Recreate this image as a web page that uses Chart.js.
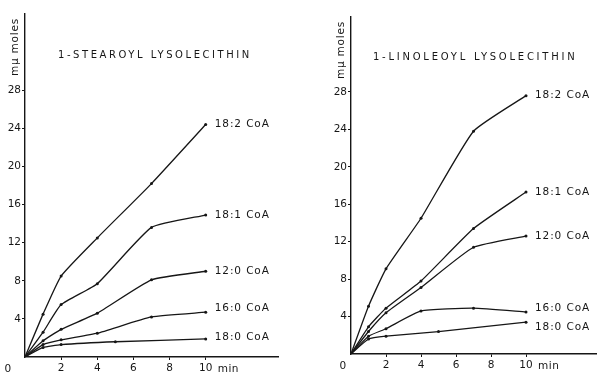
<!DOCTYPE html>
<html>
<head>
<meta charset="utf-8">
<script src="https://cdn.jsdelivr.net/npm/chart.js@4.4.1/dist/chart.umd.min.js"></script>
<style>
  html, body { margin: 0; padding: 0; background: #fff; }
  .wrap { display: flex; width: 600px; height: 375px; }
  .panel { position: relative; width: 300px; height: 375px; }
</style>
</head>
<body>
<div class="wrap">
  <div class="panel"><canvas id="stearoyl"></canvas></div>
  <div class="panel"><canvas id="linoleoyl"></canvas></div>
</div>
<script>
// time points (min); the 18:0 series was sampled at 5 min instead of 4 and 7
const minutes = [0, 1, 2, 4, 7, 10];
const minutes180 = [0, 1, 2, 5, 10];
const seriesNames = ['18:2 CoA', '18:1 CoA', '12:0 CoA', '16:0 CoA', '18:0 CoA'];
const xTicks = [2, 4, 6, 8, 10];
const yTicks = [4, 8, 12, 16, 20, 24, 28];

// 1-stearoyl lysolecithin, mµmoles
const st182 = [0, 4.5, 8.5, 12.5, 18.2, 24.4];
const st181 = [0, 2.6, 5.5, 7.7, 13.6, 14.9];
const st120 = [0, 1.7, 2.9, 4.6, 8.1, 9.0];
const st160 = [0, 1.3, 1.8, 2.5, 4.2, 4.7];
const st180 = [0, 1.0, 1.3, 1.6, 1.9];

// 1-linoleoyl lysolecithin, mµmoles
const li182 = [0, 5.1, 9.1, 14.5, 23.8, 27.6];
const li181 = [0, 2.9, 4.9, 7.8, 13.4, 17.3];
const li120 = [0, 2.4, 4.4, 7.1, 11.4, 12.6];
const li160 = [0, 1.9, 2.7, 4.6, 4.9, 4.5];
const li180 = [0, 1.6, 1.9, 2.4, 3.4];

const FONT = '"DejaVu Sans", sans-serif';
const INK = '#161616';

const toPoints = (xs, ys) => xs.map((x, i) => ({ x: x, y: ys[i] }));

// draws the panel title, series labels, axis words
const annotate = {
  id: 'annotate',
  afterDatasetsDraw(chart, args, opts) {
    const ctx = chart.ctx;
    const area = chart.chartArea;
    ctx.save();
    ctx.fillStyle = INK;
    ctx.textBaseline = 'middle';

    // panel title, widely spaced capitals
    ctx.font = '10px ' + FONT;
    ctx.letterSpacing = opts.titleSpacing;
    ctx.textAlign = 'left';
    ctx.fillText(opts.title, area.left + opts.titleX, opts.titleY);

    // series labels at the end of each line
    ctx.font = '10.5px ' + FONT;
    ctx.letterSpacing = '0.9px';
    chart.data.datasets.forEach((ds, i) => {
      const meta = chart.getDatasetMeta(i);
      const last = meta.data[meta.data.length - 1];
      ctx.fillText(ds.label, last.x + 9, last.y + (opts.labelDy[i] || 0));
    });

    // "0" at the origin and "min" after the last tick
    const xs = chart.scales.x;
    const tickY = area.bottom + 12;
    ctx.font = '10.5px ' + FONT;
    ctx.letterSpacing = '0.5px';
    ctx.textAlign = 'center';
    ctx.fillText('0', area.left - opts.zeroDx, tickY);
    ctx.textAlign = 'left';
    ctx.fillText('min', xs.getPixelForValue(10) + 12, tickY);

    // y axis title, rotated at the top of the axis
    ctx.translate(area.left - 10, area.top + 33);
    ctx.rotate(-Math.PI / 2);
    ctx.textAlign = 'center';
    ctx.letterSpacing = '0.8px';
    ctx.fillText('mμ moles', 0, 0);
    ctx.restore();
  }
};

function makePanel(canvasId, cfg) {
  const lines = cfg.values.map((vals, i) => ({
    label: seriesNames[i],
    data: toPoints(i === 4 ? minutes180 : minutes, vals),
    borderColor: INK,
    backgroundColor: INK,
    borderWidth: 1.3,
    pointRadius: 1.5,
    pointBorderWidth: 0,
    tension: 0.15
  }));

  return new Chart(document.getElementById(canvasId), {
    type: 'line',
    data: { datasets: lines },
    plugins: [annotate],
    options: {
      responsive: true,
      maintainAspectRatio: false,
      animation: false,
      events: [],
      layout: { padding: cfg.padding },
      plugins: {
        legend: { display: false },
        tooltip: { enabled: false },
        annotate: cfg.notes
      },
      scales: {
        x: {
          type: 'linear',
          min: 0,
          max: 14,
          afterBuildTicks: (scale) => { scale.ticks = xTicks.map(v => ({ value: v })); },
          afterFit: (scale) => { scale.height = 18; },
          border: { display: true, color: INK, width: 1.4 },
          grid: { drawOnChartArea: false, color: INK, tickLength: 3 },
          ticks: { color: INK, font: { family: FONT, size: 10.5 }, padding: 2, maxRotation: 0 }
        },
        y: {
          min: 0,
          max: 36,
          afterBuildTicks: (scale) => { scale.ticks = yTicks.map(v => ({ value: v })); },
          afterFit: (scale) => { scale.width = 25; },
          border: { display: true, color: INK, width: 1.4 },
          grid: { drawOnChartArea: false, color: INK, tickLength: 3 },
          ticks: { color: INK, font: { family: FONT, size: 10.5 }, padding: 1 }
        }
      }
    }
  });
}

makePanel('stearoyl', {
  values: [st182, st181, st120, st160, st180],
  padding: { left: 0, top: 14, right: 22, bottom: 0 },
  notes: {
    title: '1-STEAROYL LYSOLECITHIN',
    titleSpacing: '2.55px',
    titleX: 33, titleY: 55,
    labelDy: [0, 0, 0, -4, -2],
    zeroDx: 17
  }
});

makePanel('linoleoyl', {
  values: [li182, li181, li120, li160, li180],
  padding: { left: 26, top: 17, right: 3, bottom: 3 },
  notes: {
    title: '1-LINOLEOYL LYSOLECITHIN',
    titleSpacing: '2.75px',
    titleX: 22, titleY: 57,
    labelDy: [0, 0, 0, -4, 5],
    zeroDx: 8
  }
});
</script>
</body>
</html>
